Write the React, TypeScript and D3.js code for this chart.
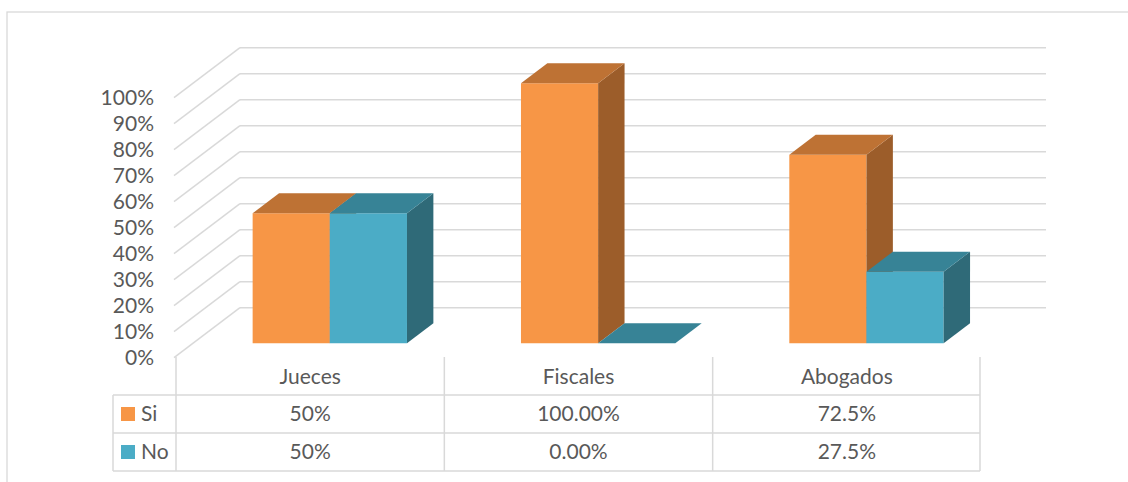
import React from "react";
import * as d3 from "d3";

const categories = ["Jueces", "Fiscales", "Abogados"];
const seriesNames = ["Si", "No"];
const siValues = [50, 100, 72.5];
const noValues = [50, 0, 27.5];
const siLabels = ["50%", "100.00%", "72.5%"];
const noLabels = ["50%", "0.00%", "27.5%"];
const yTicks = [0, 10, 20, 30, 40, 50, 60, 70, 80, 90, 100];

const W = 1128;
const H = 482;
const FONT = "Lato, 'Open Sans', sans-serif";
const FS = 21;
const TXT = "#595959";
const GRID = "#d9d9d9";

const faceColors: Record<string, { front: string; top: string; side: string }> = {
  Si: { front: "#F79646", top: "#BE7234", side: "#9C5D2A" },
  No: { front: "#4BACC6", top: "#378396", side: "#2F6A78" },
};

export default function App() {
  const y = d3.scaleLinear().domain([0, 100]).range([357.7, 97.7]);
  const x = d3.scaleBand<string>().domain(categories).range([176, 981]);
  const xs = d3
    .scaleBand<string>()
    .domain(seriesNames)
    .range([57.5, x.bandwidth() - 56.5]);
  const DX = 66;
  const DY = -50;
  const z1 = 0.29;
  const z2 = 0.69;
  const wallLeft = 174;
  const wallRight = 980;

  const proj = (px: number, v: number, z: number): [number, number] => [
    px + z * DX,
    y(v) + z * DY,
  ];
  const poly = (pts: [number, number][]) => pts.map((p) => p.join(",")).join(" ");

  const bars: JSX.Element[] = [];
  categories.forEach((c, i) => {
    seriesNames.forEach((s) => {
      const v = s === "Si" ? siValues[i] : noValues[i];
      const xl = (x(c) as number) + (xs(s) as number);
      const xr = xl + xs.bandwidth();
      const col = faceColors[s];
      const key = `${c}-${s}`;
      const front = [proj(xl, 0, z1), proj(xr, 0, z1), proj(xr, v, z1), proj(xl, v, z1)] as [number, number][];
      const top = [proj(xl, v, z1), proj(xr, v, z1), proj(xr, v, z2), proj(xl, v, z2)] as [number, number][];
      const side = [proj(xr, 0, z1), proj(xr, 0, z2), proj(xr, v, z2), proj(xr, v, z1)] as [number, number][];
      bars.push(
        <g key={key}>
          {v > 0 && <polygon points={poly(front)} fill={col.front} />}
          {v > 0 && <polygon points={poly(side)} fill={col.side} />}
          <polygon points={poly(top)} fill={col.top} />
        </g>
      );
    });
  });

  const tableTop = 357;
  const rowH = [38, 38, 38];
  const headerBottom = tableTop + rowH[0];
  const row1Bottom = headerBottom + rowH[1];
  const row2Bottom = row1Bottom + rowH[2];
  const legendLeft = 113;

  return (
    <svg width={W} height={H} style={{ position: "absolute", left: 0, top: 0 }}>
      <rect x={0} y={0} width={W} height={H} fill="#fff" />
      <rect x={7} y={12} width={W + 20} height={H + 20} fill="none" stroke={GRID} strokeWidth={1.3} />
      {/* walls */}
      {yTicks.map((t) => {
        const [fx, fy] = [wallLeft, y(t)];
        const [bx, by] = [wallLeft + DX, y(t) + DY];
        return (
          <g key={t}>
            <line x1={fx} y1={fy} x2={bx} y2={by} stroke={GRID} strokeWidth={1.5} />
            <line x1={bx} y1={by} x2={wallRight + DX} y2={by} stroke={GRID} strokeWidth={1.5} />
            <text
              x={154}
              y={fy}
              dy="0.35em"
              textAnchor="end"
              fontFamily={FONT}
              fontSize={FS}
              fill={TXT}
            >
              {t}%
            </text>
          </g>
        );
      })}
      {bars}
      {/* data table */}
      <g stroke={GRID} strokeWidth={1.5} fill="none">
        <line x1={legendLeft} y1={headerBottom} x2={wallRight} y2={headerBottom} />
        <line x1={legendLeft} y1={row1Bottom} x2={wallRight} y2={row1Bottom} />
        <line x1={legendLeft} y1={row2Bottom} x2={wallRight} y2={row2Bottom} />
        <line x1={legendLeft} y1={headerBottom} x2={legendLeft} y2={row2Bottom} />
        {[...categories.map((c) => x(c) as number), wallRight].map((vx, k) => (
          <line key={k} x1={vx} y1={tableTop} x2={vx} y2={row2Bottom} />
        ))}
      </g>
      {categories.map((c, i) => {
        const cx = (x(c) as number) + x.bandwidth() / 2;
        return (
          <g key={c} fontFamily={FONT} fontSize={FS} fill={TXT} textAnchor="middle">
            <text x={cx} y={(tableTop + headerBottom) / 2 + 1} dy="0.35em">{c}</text>
            <text x={cx} y={(headerBottom + row1Bottom) / 2} dy="0.35em">{siLabels[i]}</text>
            <text x={cx} y={(row1Bottom + row2Bottom) / 2} dy="0.35em">{noLabels[i]}</text>
          </g>
        );
      })}
      {seriesNames.map((s, k) => {
        const top = k === 0 ? headerBottom : row1Bottom;
        const cy = top + 19;
        return (
          <g key={s}>
            <rect x={121} y={cy - 7} width={14} height={14} fill={faceColors[s].front} />
            <text x={141} y={cy} dy="0.35em" fontFamily={FONT} fontSize={FS} fill={TXT}>
              {s}
            </text>
          </g>
        );
      })}
    </svg>
  );
}
